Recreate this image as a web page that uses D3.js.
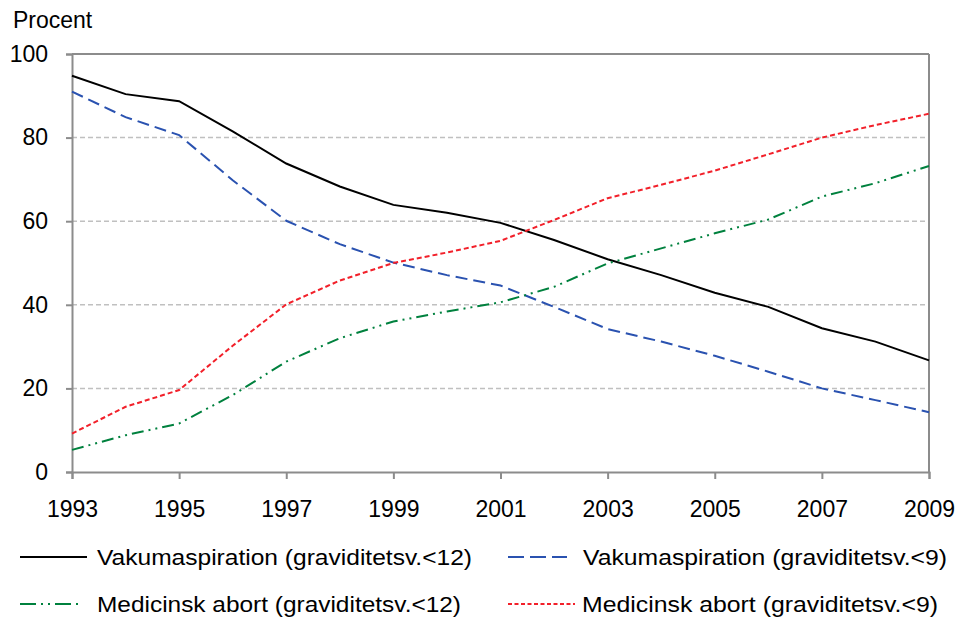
<!DOCTYPE html>
<html><head><meta charset="utf-8">
<script src="https://cdn.jsdelivr.net/npm/d3@7"></script>
<style>body{margin:0;background:#fff}svg text{font-family:"Liberation Sans",Arial,sans-serif;fill:#000}</style>
</head><body><svg id="c" width="962" height="619"></svg>
<script>
const years = d3.range(1993, 2010);
const vakum12 = [94.8,90.4,88.7,81.5,73.8,68.3,63.9,62.0,59.6,55.5,50.9,47.1,42.9,39.5,34.4,31.2,26.7];
const vakum9  = [91.0,84.9,80.6,69.8,60.1,54.5,50.1,47.1,44.6,39.5,34.2,31.2,27.8,24.0,20.0,17.2,14.3];
const medic12 = [5.3,8.8,11.6,18.4,26.4,32.0,36.0,38.4,40.6,44.3,49.9,53.5,57.1,60.4,65.9,69.1,73.2];
const medic9  = [9.2,15.6,19.6,30.2,40.1,45.8,50.0,52.5,55.3,60.3,65.5,68.7,72.1,76.0,80.0,83.0,85.7];
const yTicks = [0,20,40,60,80,100];
const xTicks = [1993,1995,1997,1999,2001,2003,2005,2007,2009];
const seriesNames = ["Vakumaspiration (graviditetsv.<12)","Vakumaspiration (graviditetsv.<9)","Medicinsk abort (graviditetsv.<12)","Medicinsk abort (graviditetsv.<9)"];
const seriesData = [vakum12, vakum9, medic12, medic9];
const seriesColors = ["#000000","#2A52B0","#00813E","#F2202A"];
const seriesDash = [null,"12,6","12,5,2,5,2,5","5,3"];
const legendDash = [null,"16,6","16,5,2,5,2,5","4,2.5"];

const svg = d3.select("#c");
const L=72, R=929, T=54, B=472;
const x = d3.scaleLinear().domain([1993,2009]).range([L,R]);
const y = d3.scaleLinear().domain([0,100]).range([B,T]);

// gridlines
svg.append("g").selectAll("line").data(yTicks.filter(v=>v>0&&v<100)).join("line")
  .attr("x1",L).attr("x2",R).attr("y1",d=>y(d)).attr("y2",d=>y(d))
  .attr("stroke","#C0C0C0").attr("stroke-width",1.5).attr("stroke-dasharray","5,3");
// border top/right
svg.append("line").attr("x1",L).attr("x2",R).attr("y1",T).attr("y2",T).attr("stroke","#8C8C8C").attr("stroke-width",2);
svg.append("line").attr("x1",R).attr("x2",R).attr("y1",T).attr("y2",B).attr("stroke","#8C8C8C").attr("stroke-width",2);

// axes
const yAxis = d3.axisLeft(y).tickValues(yTicks).tickSize(6).tickPadding(18);
const gy = svg.append("g").attr("transform",`translate(${L},0)`).call(yAxis);
const xAxis = d3.axisBottom(x).tickValues(xTicks).tickFormat(d3.format("d")).tickSize(7).tickPadding(21.5);
const gx = svg.append("g").attr("transform",`translate(0,${B})`).call(xAxis);
[gx,gy].forEach(g=>{
  g.select(".domain").attr("stroke","#8C8C8C").attr("stroke-width",2);
  g.selectAll(".tick line").attr("stroke","#8C8C8C").attr("stroke-width",2);
  g.selectAll("text").attr("font-size",23).attr("font-family","Liberation Sans, Arial, sans-serif").attr("fill","#000");
});

svg.append("text").attr("x",13).attr("y",28).attr("font-size",23).text("Procent");

// lines
const line = d3.line().x((d,i)=>x(years[i])).y(d=>y(d));
seriesData.forEach((s,k)=>{
  svg.append("path").datum(s).attr("d",line).attr("fill","none")
    .attr("stroke",seriesColors[k]).attr("stroke-width",2)
    .attr("stroke-dasharray",seriesDash[k]);
});

// legend: [lineX1, lineX2, lineY, textX, textWidth, baseline]
const legPos = [[20,87,557,97,375,565],[508,567,557,583,364,565],[20,80,604,97,364,612],[508,575,604,582,356,612]];
seriesNames.forEach((n,k)=>{
  const [x1,x2,ly,tx,tw,bl]=legPos[k];
  svg.append("line").attr("x1",x1).attr("x2",x2).attr("y1",ly).attr("y2",ly)
    .attr("stroke",seriesColors[k]).attr("stroke-width",2).attr("stroke-dasharray",legendDash[k]);
  svg.append("text").attr("x",tx).attr("y",bl).attr("font-size",22)
    .attr("textLength",tw).attr("lengthAdjust","spacingAndGlyphs").text(n);
});
</script></body></html>
